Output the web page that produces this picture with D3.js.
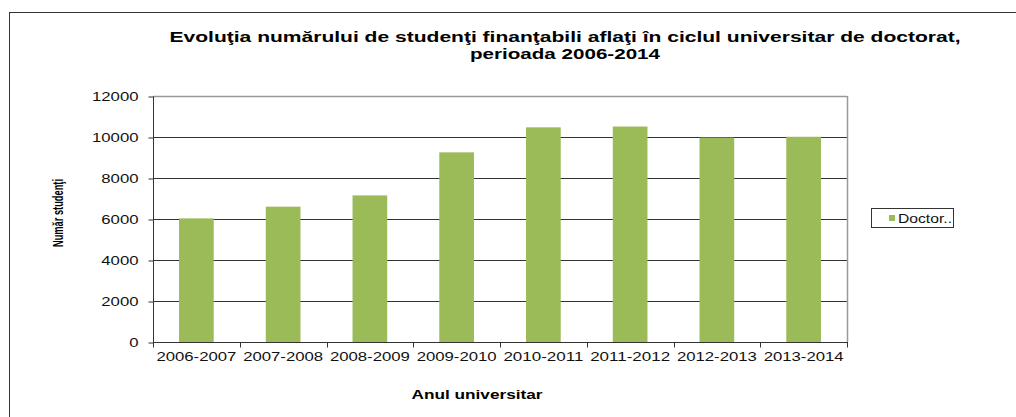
<!DOCTYPE html>
<html>
<head>
<meta charset="utf-8">
<script src="https://cdn.jsdelivr.net/npm/d3@7"></script>
<style>
  body { margin: 0; background: #fff; }
  text { font-family: "Liberation Sans", Arial, sans-serif; }
</style>
</head>
<body>
<div id="chart"></div>
<script>
// chart data
var categories = ["2006-2007", "2007-2008", "2008-2009", "2009-2010",
                  "2010-2011", "2011-2012", "2012-2013", "2013-2014"];
var doctorValues = [6080, 6650, 7200, 9300, 10520, 10560, 10020, 10060];
var yTicks = [0, 2000, 4000, 6000, 8000, 10000, 12000];
var seriesName = "Doctor..";
var titleLines = ["Evoluţia numărului de studenţi finanţabili aflaţi în ciclul universitar de doctorat,",
                  "perioada 2006-2014"];

var green = "#9bbb59";

var svg = d3.select("#chart").append("svg")
    .attr("width", 1016)
    .attr("height", 417);

// outer chart frame (runs off the right and bottom of the picture)
svg.append("rect")
    .attr("x", 9.5).attr("y", 12.5)
    .attr("width", 1030).attr("height", 430)
    .attr("fill", "#fff")
    .attr("stroke", "#333");

// plot area edges (window.top is reserved, so no bare "top")
var plotLeft = 153, plotRight = 847, plotTop = 96, plotBottom = 342;

var x = d3.scaleBand()
    .domain(categories)
    .range([plotLeft, plotRight])
    .paddingInner(0.6)
    .paddingOuter(0.3);

var y = d3.scaleLinear()
    .domain([0, 12000])
    .range([plotBottom, plotTop]);

// gridlines
svg.append("g")
  .selectAll("line")
  .data(yTicks.filter(function(d) { return d > 0; }))
  .enter().append("line")
    .attr("x1", plotLeft).attr("x2", plotRight)
    .attr("y1", function(d) { return y(d) + 0.5; })
    .attr("y2", function(d) { return y(d) + 0.5; })
    .attr("stroke", function(d) { return d === 12000 ? "#999" : "#333"; })
    .attr("stroke-width", function(d) { return d === 12000 ? 1.5 : 1; });

// right border of plot
svg.append("line")
    .attr("x1", plotRight + 0.5).attr("x2", plotRight + 0.5)
    .attr("y1", plotTop).attr("y2", plotBottom)
    .attr("stroke", "#999").attr("stroke-width", 1.5);

// bars
svg.append("g")
  .selectAll("rect")
  .data(doctorValues)
  .enter().append("rect")
    .attr("x", function(d, i) { return x(categories[i]); })
    .attr("y", function(d) { return y(d) + 1; })
    .attr("width", x.bandwidth())
    .attr("height", function(d) { return y(0) - y(d) - 1; })
    .attr("fill", green);

// y axis
var yAxis = svg.append("g")
    .attr("transform", "translate(" + (plotLeft + 0.5) + ",0.5)")
    .call(d3.axisLeft(y).tickValues(yTicks).tickSize(5).tickPadding(10).tickFormat(d3.format("d")));
yAxis.select(".domain").attr("stroke", "#333").attr("d", "M0," + plotTop + "V" + plotBottom);
yAxis.selectAll(".tick line").attr("stroke", "#333");
yAxis.selectAll(".tick text")
    .attr("fill", "#111")
    .style("font-size", "13px")
    .attr("textLength", function(d) { return String(d).length * 9.3; })
    .attr("lengthAdjust", "spacingAndGlyphs");

// x axis
var xAxis = svg.append("g")
    .attr("transform", "translate(0," + (plotBottom + 0.5) + ")");
xAxis.append("line")
    .attr("x1", plotLeft).attr("x2", plotRight + 1)
    .attr("stroke", "#333");
xAxis.selectAll(".sep")
  .data(d3.range(categories.length + 1))
  .enter().append("line")
    .attr("class", "sep")
    .attr("x1", function(i) { return Math.round(plotLeft + i * x.step()) + 0.5; })
    .attr("x2", function(i) { return Math.round(plotLeft + i * x.step()) + 0.5; })
    .attr("y1", 0).attr("y2", 5)
    .attr("stroke", "#333");
xAxis.selectAll(".lbl")
  .data(categories)
  .enter().append("text")
    .attr("class", "lbl")
    .attr("x", function(d) { return x(d) + x.bandwidth() / 2; })
    .attr("y", 18.5)
    .attr("text-anchor", "middle")
    .attr("fill", "#111")
    .style("font-size", "13px")
    .attr("textLength", 80)
    .attr("lengthAdjust", "spacingAndGlyphs")
    .text(function(d) { return d; });

// title
svg.selectAll(".title")
  .data(titleLines)
  .enter().append("text")
    .attr("class", "title")
    .attr("x", 565)
    .attr("y", function(d, i) { return 41.5 + i * 17.5; })
    .attr("text-anchor", "middle")
    .style("font-size", "14.5px")
    .style("font-weight", "bold")
    .attr("textLength", function(d, i) { return i === 0 ? 791 : 190; })
    .attr("lengthAdjust", "spacingAndGlyphs")
    .text(function(d) { return d; });

// axis titles
svg.append("text")
    .attr("transform", "translate(63,213) rotate(-90)")
    .attr("text-anchor", "middle")
    .style("font-size", "15px")
    .style("font-weight", "bold")
    .attr("textLength", 68)
    .attr("lengthAdjust", "spacingAndGlyphs")
    .text("Număr studenţi");

svg.append("text")
    .attr("x", 477).attr("y", 399)
    .attr("text-anchor", "middle")
    .style("font-size", "12px")
    .style("font-weight", "bold")
    .attr("textLength", 131)
    .attr("lengthAdjust", "spacingAndGlyphs")
    .text("Anul universitar");

// legend
var legend = svg.append("g");
legend.append("rect")
    .attr("x", 871.5).attr("y", 208.5)
    .attr("width", 82).attr("height", 19)
    .attr("fill", "#fff").attr("stroke", "#333");
legend.append("rect")
    .attr("x", 889).attr("y", 215)
    .attr("width", 6).attr("height", 6)
    .attr("fill", green);
legend.append("text")
    .attr("x", 898).attr("y", 222.5)
    .attr("fill", "#111")
    .style("font-size", "12px")
    .attr("textLength", 54)
    .attr("lengthAdjust", "spacingAndGlyphs")
    .text(seriesName);
</script>
</body>
</html>
